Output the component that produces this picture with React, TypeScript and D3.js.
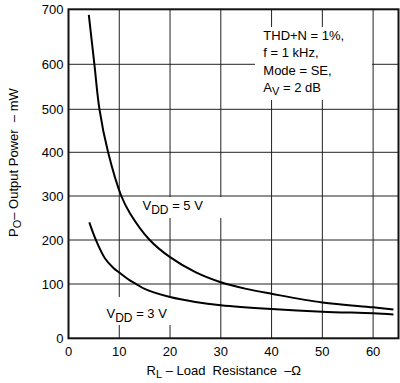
import React from "react";
import * as d3 from "d3";

const R5 = [4, 5.1, 6.1, 7.8, 10.4, 12.1, 16, 20, 25, 30, 35, 40, 50, 60, 64];
const P5 = [690, 600, 500, 400, 300, 261, 200, 161, 127, 104, 91, 82, 66, 57, 53];
const R3 = [4.1, 5.4, 7.2, 8.8, 10, 12, 13.2, 15, 20, 25, 30, 40, 50, 60, 64];
const P3 = [240, 200, 158, 137, 126, 109, 101, 91, 76, 67, 61, 54, 49, 46, 44];
const xTicks = [0, 10, 20, 30, 40, 50, 60];
const yTicks = [0, 100, 200, 300, 400, 500, 600, 700];

const W = 400;
const H = 383;
const left = 68.5;
const right = 398.5;
const top = 9.3;
const bottom = 338.3;
const FONT = "'Liberation Sans', Arial, Helvetica, sans-serif";

export default function App() {
  const x = d3.scaleLinear().domain([0, 65]).range([left, right]);
  // the reference's y axis has wider first/last intervals
  const y = d3
    .scaleLinear()
    .domain(yTicks)
    .range([bottom, 284, 240, 196, 152.3, 109.3, 64.3, top]);

  const line = d3
    .line<[number, number]>()
    .x((d) => x(d[0]))
    .y((d) => y(d[1]))
    .curve(d3.curveCatmullRom.alpha(0.5));

  const d5 = line(R5.map((r, i) => [r, P5[i]] as [number, number])) || "";
  const d3v = line(R3.map((r, i) => [r, P3[i]] as [number, number])) || "";

  return (
    <svg
      width={W}
      height={H}
      style={{ position: "absolute", left: 0, top: 0, background: "#fff" }}
      fontFamily={FONT}
    >
      {/* grid */}
      {xTicks.slice(1).map((t) => (
        <line key={"gx" + t} x1={x(t)} x2={x(t)} y1={top} y2={bottom} stroke="#222" strokeWidth={1} />
      ))}
      {yTicks.slice(1, -1).map((t) => (
        <line key={"gy" + t} x1={left} x2={right} y1={y(t)} y2={y(t)} stroke="#222" strokeWidth={1} />
      ))}
      {/* white boxes behind annotations */}
      <rect x={255} y={27} width={117} height={73} fill="#fff" />
      <rect x={135} y={197} width={91} height={21} fill="#fff" />
      <rect x={101} y={297} width={77} height={28} fill="#fff" />

      {/* curves */}
      <path d={d5} fill="none" stroke="#000" strokeWidth={2} />
      <path d={d3v} fill="none" stroke="#000" strokeWidth={2} />

      {/* frame */}
      <rect x={left} y={top} width={right - left} height={bottom - top} fill="none" stroke="#111" strokeWidth={2} />

      {/* y tick labels */}
      {yTicks.map((t) => (
        <text key={"ly" + t} x={63.5} y={y(t)} dy="0.36em" textAnchor="end" fontSize={13} fill="#000">
          {t}
        </text>
      ))}
      {/* x tick labels */}
      {xTicks.map((t) => (
        <text key={"lx" + t} x={x(t)} y={356} textAnchor="middle" fontSize={13} fill="#000">
          {t}
        </text>
      ))}

      {/* annotation */}
      <g fontSize={13} fill="#000">
        <text x={263.3} y={40}>THD+N = 1%,</text>
        <text x={263.3} y={57.3}>f = 1 kHz,</text>
        <text x={263.3} y={74.6}>Mode = SE,</text>
        <text x={263.3} y={91.6}>
          A<tspan fontSize={11} dy={3}>V</tspan>
          <tspan dy={-3}> = 2 dB</tspan>
        </text>
      </g>

      <text x={142.5} y={209.5} fontSize={13} fill="#000">
        V<tspan fontSize={12} dy={4}>DD</tspan>
        <tspan dy={-4}> = 5 V</tspan>
      </text>
      <text x={106.5} y={318} fontSize={13} fill="#000">
        V<tspan fontSize={12} dy={4}>DD</tspan>
        <tspan dy={-4}> = 3 V</tspan>
      </text>

      {/* axis titles */}
      <text x={146.5} y={375} fontSize={13} fill="#000" style={{ whiteSpace: "pre" }}>
        R<tspan fontSize={11} dy={3}>L</tspan>
        <tspan dy={-3}>{" – Load  Resistance  –Ω"}</tspan>
      </text>
      <text
        transform={`translate(17.5, 237) rotate(-90)`}
        fontSize={13}
        fill="#000"
        style={{ whiteSpace: "pre" }}
      >
        P<tspan fontSize={11} dy={3}>O</tspan>
        <tspan dy={-3}>{"– Output Power  – mW"}</tspan>
      </text>
    </svg>
  );
}
